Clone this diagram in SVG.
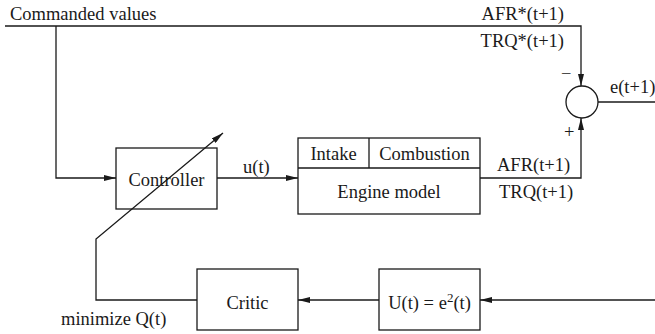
<svg xmlns="http://www.w3.org/2000/svg" width="655" height="334" viewBox="0 0 655 334">
<defs>
<style>
.t{font-family:'Liberation Serif','Times New Roman','DejaVu Serif',serif;font-size:18.5px;fill:#1a1a1a}
.box{fill:none;stroke:#1a1a1a;stroke-width:1.3}
.ln{fill:none;stroke:#1a1a1a;stroke-width:1.3}
.mid{text-anchor:middle}
.end{text-anchor:end}
</style>
<marker id="ah" viewBox="0 0 12 6" refX="12" refY="3" markerWidth="12" markerHeight="6" markerUnits="userSpaceOnUse" orient="auto">
<path d="M0,0 L12,3 L0,6 Z" fill="#1a1a1a"/>
</marker>
</defs>
<rect width="655" height="334" fill="#fff"/>
<g id="controller">
<rect class="box" x="116" y="148" width="101" height="61"/>
<text class="t mid" font-family="Liberation Serif, serif" x="166.5" y="186">Controller</text>
</g>
<g id="engine">
<rect class="box" x="298" y="138" width="182" height="76"/>
<path class="ln" d="M298,168 H480 M369,138 V168"/>
<text class="t mid" font-family="Liberation Serif, serif" x="333.5" y="160">Intake</text>
<text class="t mid" font-family="Liberation Serif, serif" x="424.5" y="160">Combustion</text>
<text class="t mid" font-family="Liberation Serif, serif" x="389" y="198">Engine model</text>
</g>
<g id="sum">
<circle class="box" cx="582" cy="102" r="16"/>
</g>
<g id="critic">
<rect class="box" x="197" y="269" width="101" height="61"/>
<text class="t mid" font-family="Liberation Serif, serif" x="247.5" y="309">Critic</text>
</g>
<g id="utility">
<rect class="box" x="379" y="269" width="101" height="61"/>
<text class="t mid" font-family="Liberation Serif, serif" x="429.5" y="309">U(t) = e<tspan font-size="13" dy="-7">2</tspan><tspan dy="7">(t)</tspan></text>
</g>
<g id="connectors">
<path class="ln" d="M5,26 H581 V86" marker-end="url(#ah)"/>
<path class="ln" d="M56,26 V178 H116" marker-end="url(#ah)"/>
<path class="ln" d="M217,178 H298" marker-end="url(#ah)"/>
<path class="ln" d="M480,178 H581 V118" marker-end="url(#ah)"/>
<path class="ln" d="M598,102 H655"/>
<path class="ln" d="M655,300 H480" marker-end="url(#ah)"/>
<path class="ln" d="M379,300 H298" marker-end="url(#ah)"/>
<path class="ln" d="M197,300 H96 V239 L223,133" marker-end="url(#ah)"/>
</g>
<g id="labels" font-family="Liberation Serif, serif">
<text class="t" x="10" y="20">Commanded values</text>
<text class="t end" x="564" y="20">AFR*(t+1)</text>
<text class="t end" x="564" y="47">TRQ*(t+1)</text>
<text class="t" x="561" y="80">−</text>
<text class="t" x="564" y="138">+</text>
<text class="t" x="610" y="93">e(t+1)</text>
<text class="t" x="243" y="173">u(t)</text>
<text class="t" x="497" y="171">AFR(t+1)</text>
<text class="t" x="499" y="198">TRQ(t+1)</text>
<text class="t" x="61" y="325">minimize Q(t)</text>
</g>
</svg>
